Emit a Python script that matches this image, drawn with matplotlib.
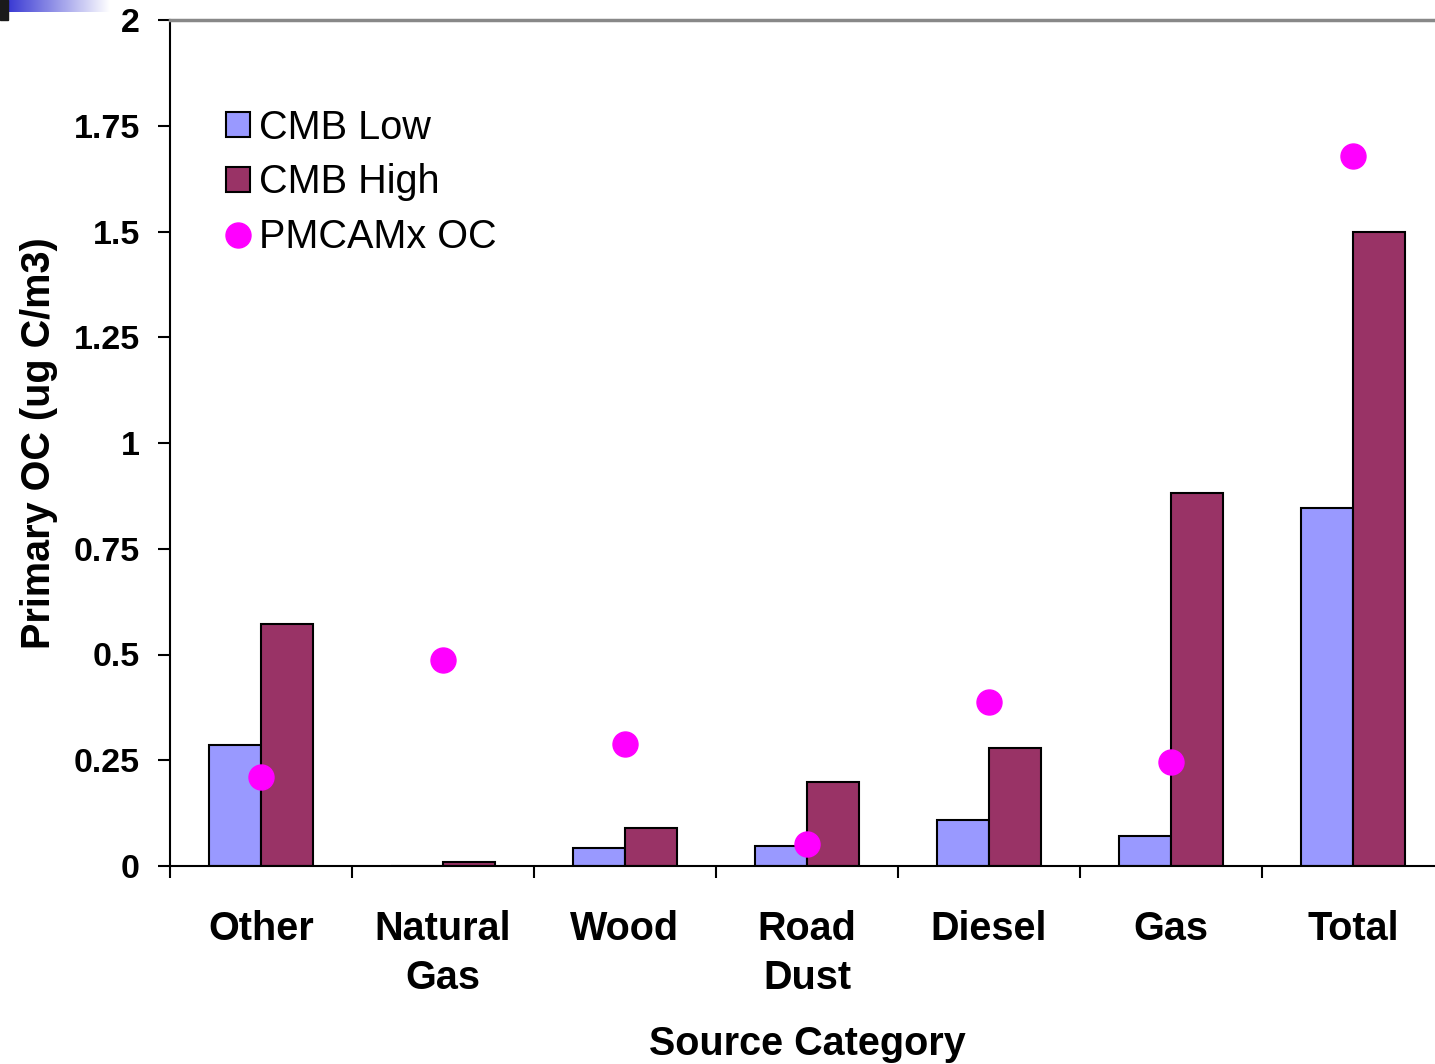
import matplotlib
matplotlib.use('Agg')
import matplotlib.pyplot as plt
import numpy as np
from matplotlib.lines import Line2D
from matplotlib.patches import Patch

plt.rcParams['font.family'] = ['Liberation Sans', 'DejaVu Sans']

# --- Data ---
categories = ['Other', 'Natural\nGas', 'Wood', 'Road\nDust', 'Diesel', 'Gas', 'Total']
cmb_low = [0.286, 0.0, 0.043, 0.047, 0.109, 0.071, 0.846]
cmb_high = [0.572, 0.010, 0.090, 0.199, 0.279, 0.882, 1.499]
pmcamx_oc = [0.210, 0.487, 0.288, 0.052, 0.388, 0.246, 1.678]
y_ticks = [0, 0.25, 0.5, 0.75, 1, 1.25, 1.5, 1.75, 2]
y_tick_labels = ['0', '0.25', '0.5', '0.75', '1', '1.25', '1.5', '1.75', '2']

LOW = '#9999FF'
HIGH = '#993366'
DOT = '#FF00FF'

W, H = 1435, 1064
fig = plt.figure(figsize=(W / 100, H / 100), dpi=100, facecolor='white')

# slide decoration in the corner
deco = fig.add_axes([0, 1 - 12 / H, 110 / W, 12 / H])
grad = np.linspace(0, 1, 256).reshape(1, -1)
deco.imshow(grad, aspect='auto', cmap=matplotlib.colors.LinearSegmentedColormap.from_list(
    'deco', ['#2a2ad0', '#ffffff']))
deco.axis('off')
fig.patches.append(plt.Rectangle((0, 1 - 20 / H), 8 / W, 20 / H, transform=fig.transFigure,
                                 color='#1a1a1a', zorder=5))

ax = fig.add_axes([170 / W, 1 - 866 / H, 1274 / W, 846 / H])
x = np.arange(len(categories))
bw = 0.286
ax.bar(x - bw / 2, cmb_low, width=bw, color=LOW, edgecolor='black', linewidth=1.5, zorder=2)
ax.bar(x + bw / 2, cmb_high, width=bw, color=HIGH, edgecolor='black', linewidth=1.5, zorder=2)
ax.plot(x, pmcamx_oc, 'o', color=DOT, markersize=18, zorder=3, linestyle='none')

ax.set_xlim(-0.5, len(categories) - 0.5)
ax.set_ylim(0, 2)
ax.set_yticks(y_ticks)
ax.set_yticklabels(y_tick_labels, fontsize=24.5, fontweight='bold')
ax.set_xticks(np.arange(len(categories) + 1) - 0.5)
ax.set_xticklabels([])
ax.set_xticks(x, minor=True)
ax.set_xticklabels(categories, minor=True, fontsize=28.5, fontweight='bold', linespacing=1.35)
ax.tick_params(axis='x', which='minor', length=0, pad=32)
ax.tick_params(axis='x', which='major', length=8.6, width=1.5, direction='out')
ax.tick_params(axis='y', length=8.6, width=1.5, direction='out', pad=13)

ax.spines['left'].set_linewidth(1.5)
ax.spines['bottom'].set_linewidth(1.5)
ax.spines['top'].set_color('#888888')
ax.spines['top'].set_linewidth(2.5)
ax.spines['right'].set_visible(False)

ax.set_ylabel('Primary OC (ug C/m3)', fontsize=28.5, fontweight='bold', labelpad=11)
ax.set_xlabel('Source Category', fontsize=28.5, fontweight='bold', labelpad=20)

handles = [Patch(facecolor=LOW, edgecolor='black', linewidth=1.5),
           Patch(facecolor=HIGH, edgecolor='black', linewidth=1.5),
           Line2D([0], [0], marker='o', color=DOT, linestyle='none', markersize=18)]
ax.legend(handles, ['CMB Low', 'CMB High', 'PMCAMx OC'], loc='upper left',
          bbox_to_anchor=(40 / 1274, 1 - 73 / 846), frameon=False, fontsize=28.5,
          handlelength=0.6, handleheight=0.6, handletextpad=0.25, labelspacing=0.42,
          borderaxespad=0)

fig.savefig('out.png', dpi=100, facecolor='white')
